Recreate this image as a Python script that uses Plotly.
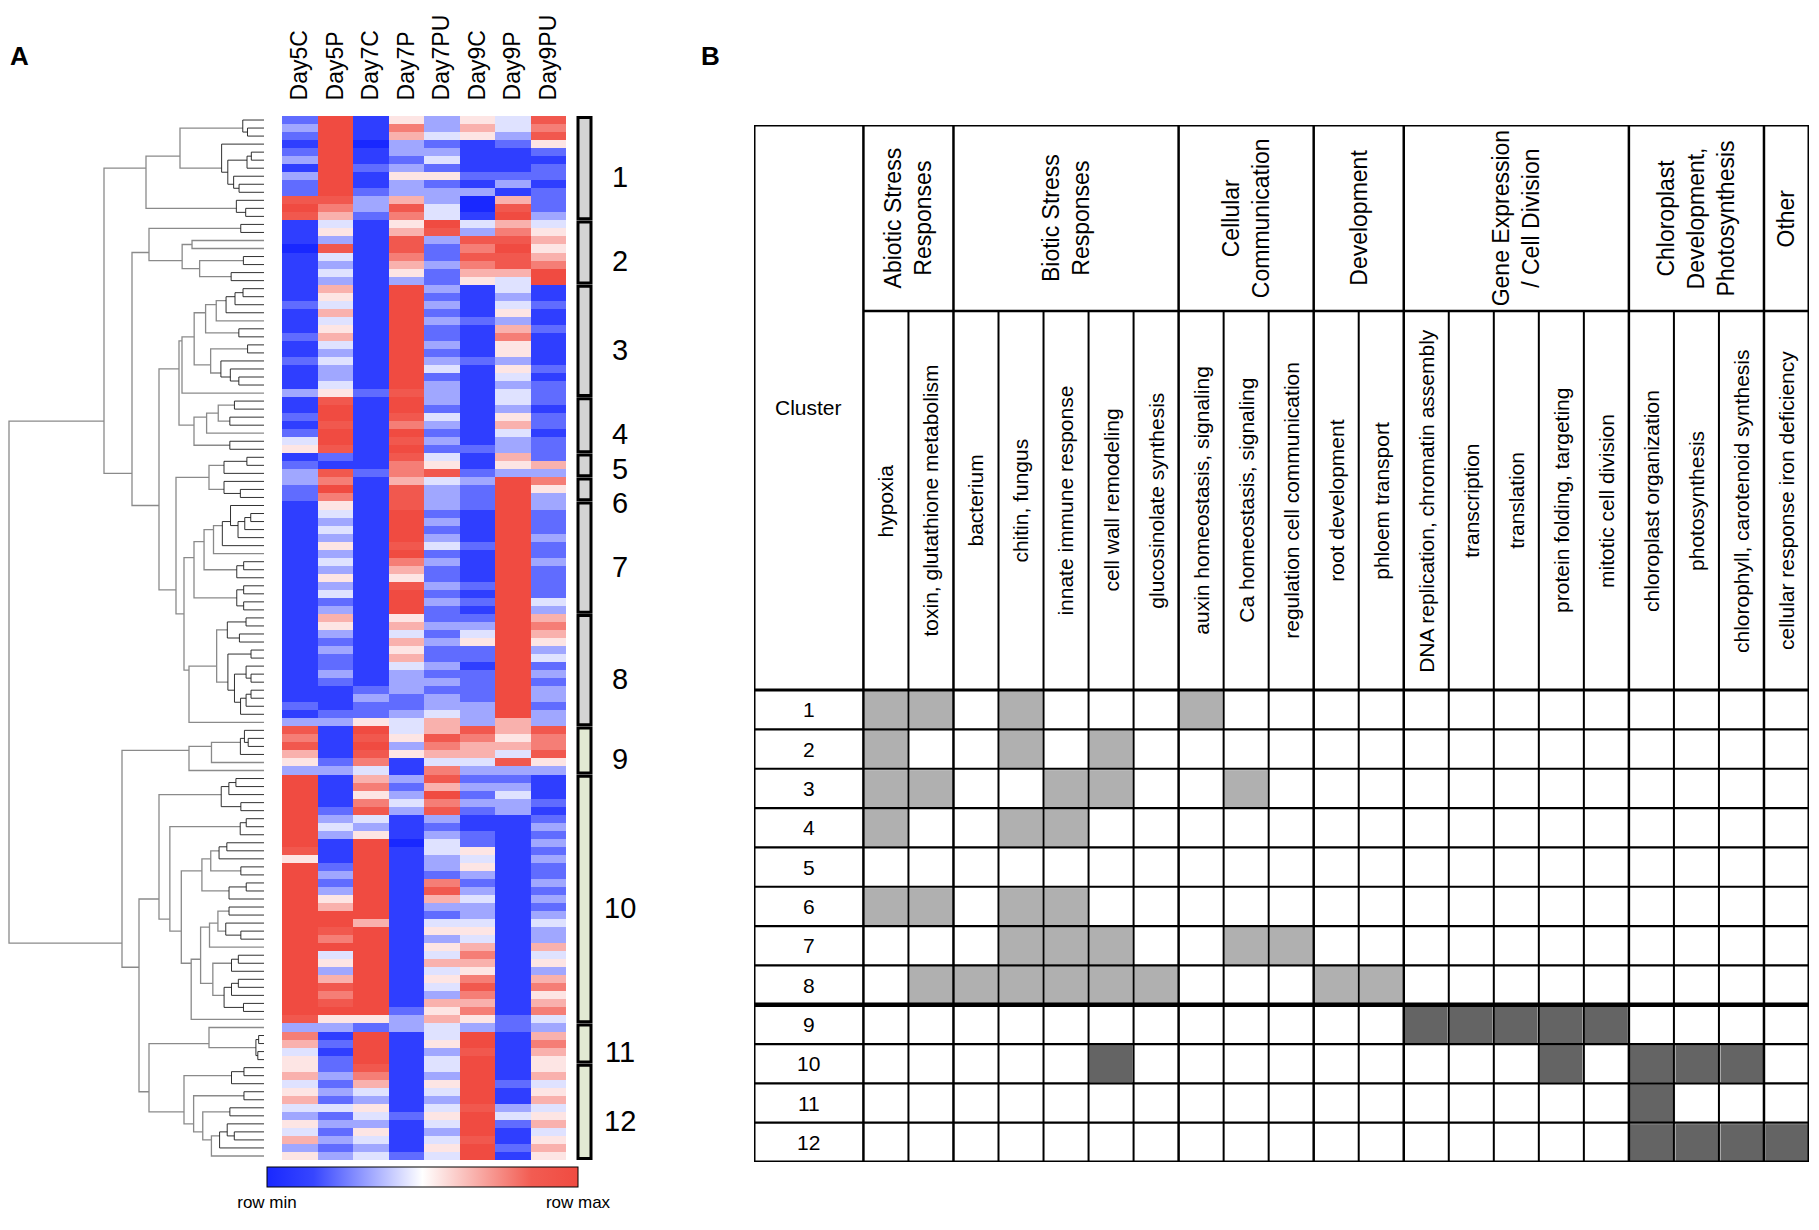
import numpy as np
import plotly.graph_objects as go

# the page puts an 8px body margin round the figure, so positions below are page pixels
PAGE_W, PAGE_H = 1819, 1230
W, H = PAGE_W - 16, PAGE_H - 16


def fx(x):
    return min(max((x - 8) / W, 0), 1)


def fy(y):
    return min(max(1 - (y - 8) / H, 0), 1)


# ---------------- panel A : data ----------------
samples = ["Day5C", "Day5P", "Day7C", "Day7P", "Day7PU", "Day9C", "Day9P", "Day9PU"]

# one string per heatmap row, one digit per sample: 0 = row min ... 9 = row max
cluster1 = ["29153548", "39173647", "29164538", "19032125", "29133112", "39124111", "19232112",
            "39155222", "29132131", "29233312", "88363062", "97384082", "86274193"]
cluster2 = ["14159464", "15168375", "13183886", "08182795", "14172886", "13163787", "14152669", "13132549"]
cluster3 = ["16193141", "15192131", "24193142", "16192151", "14193231", "15192162", "26192171",
            "14193151", "13192151", "24193231", "13194152", "13192141", "14193132", "35283142"]
cluster4 = ["18193142", "19192131", "29184152", "18173162", "29192141", "49183132", "58192232"]
cluster5 = ["12184162", "21175156", "38278233"]
cluster6 = ["37164397", "29183295", "27183293"]
cluster7 = ["15183293", "14192192", "13193192", "14192192", "13193193", "15184292", "13192192",
            "14173193", "13162192", "15152192", "13183292", "14192192", "12193294", "13192193"]
cluster8 = ["16152296", "15163397", "13142496", "12163595", "13152293", "12162294", "12143192",
            "13132293", "12133292", "11232293", "11323293", "21223392", "12234393", "33546363"]
cluster9 = ["81946868", "71858757", "81937667", "61856648", "52714485", "33417333"]
cluster10 = ["91638221", "91726331", "91539241", "91747332", "92838231", "93413112", "94312113",
             "93513212", "91904213", "81914512", "51913413", "92913512", "93912312", "92917213",
             "93918312", "95916413", "96913312", "99912313", "99614414", "98915513", "97913413",
             "99915616", "94914714", "95916615", "93914513", "96915716", "98914817", "97913715",
             "98916616", "99925717", "85536524"]
cluster11 = ["33234323", "71914916", "62915917", "41913816", "52914915"]
cluster12 = ["52814915", "63713916", "42615924", "53414915", "62313916", "44514834", "32425945",
             "53314926", "42513914", "63414815", "32315926", "53424915"]

cluster_blocks = [cluster1, cluster2, cluster3, cluster4, cluster5, cluster6,
                  cluster7, cluster8, cluster9, cluster10, cluster11, cluster12]
cluster_labels = ["1", "2", "3", "4", "5", "6", "7", "8", "9", "10", "11", "12"]

# dendrogram heights (distance from the leaves) of each cluster's own subtree
cluster_tops = [118, 115, 82, 70, 40, 40, 70, 75, 75, 105, 55, 80]
# merges above cluster level: (node a, node b, height); nodes 0-11 are the clusters, new nodes from 12
top_merges = [(4, 5, 55), (6, 7, 80), (12, 13, 88), (2, 3, 85), (15, 14, 105), (1, 16, 132),
              (0, 17, 160), (10, 11, 115), (9, 19, 125), (8, 20, 142), (18, 21, 255)]

# ---------------- panel B : data ----------------
groups = ["Abiotic Stress<br>Responses", "Biotic Stress<br>Responses", "Cellular<br>Communication",
          "Development", "Gene Expression<br>/ Cell Division",
          "Chloroplast<br>Development,<br>Photosynthesis", "Other"]
group_sizes = [2, 5, 3, 2, 5, 3, 1]
terms = ["hypoxia", "toxin, glutathione metabolism", "bacterium", "chitin, fungus",
         "innate immune response", "cell wall remodeling", "glucosinolate synthesis",
         "auxin homeostasis, signaling", "Ca homeostasis, signaling", "regulation cell communication",
         "root development", "phloem transport", "DNA replication, chromatin assembly",
         "transcription", "translation", "protein folding, targeting", "mitotic cell division",
         "chloroplast organization", "photosynthesis", "chlorophyll, carotenoid synthesis",
         "cellular response iron deficiency"]
# enriched term columns per cluster
enriched = [[0, 1, 3, 7], [0, 3, 5], [0, 1, 4, 5, 8], [0, 3, 4], [], [0, 1, 3, 4],
            [3, 4, 5, 8, 9], [1, 2, 3, 4, 5, 6, 10, 11],
            [12, 13, 14, 15, 16], [5, 15, 17, 18, 19], [17], [17, 18, 19, 20]]
cluster_shade = [1, 1, 1, 1, 1, 1, 1, 1, 2, 2, 2, 2]

FONT = "Arial, Liberation Sans, sans-serif"

# ---------------- heatmap ----------------
rows = [[int(c) for c in s] for block in cluster_blocks for s in block]
z = np.array(rows, float) / 9.0
n_rows = len(rows)
sizes = [len(b) for b in cluster_blocks]
starts = np.cumsum([0] + sizes[:-1])

fig = go.Figure()

fig.add_trace(go.Heatmap(
    z=z, x=samples, y=list(range(n_rows)), zmin=0, zmax=1,
    colorscale=[[0, "rgb(25,40,255)"], [0.15, "rgb(55,70,255)"], [0.5, "rgb(255,255,255)"],
                [0.85, "rgb(242,92,82)"], [1, "rgb(240,75,65)"]],
    hoverinfo="skip",
    colorbar=dict(orientation="h", x=fx((267 + 578) / 2), xanchor="center",
                  y=fy(1207), yanchor="bottom", len=311 / W, lenmode="fraction",
                  thickness=20, outlinecolor="black", outlinewidth=1, xpad=0, ypad=0,
                  tickvals=[0, 1], ticktext=["row min", "row max"], ticks="",
                  tickfont=dict(family=FONT, size=17, color="black")),
))


# ---------------- dendrogram ----------------
# a node sits at the mean position of all the rows below it
def cluster_links(block, first_row):
    # order preserving agglomeration: only neighbouring groups may merge
    grp = [[first_row + i, 0.0, np.array([int(c) for c in s], float), 1] for i, s in enumerate(block)]
    links = []
    while len(grp) > 1:
        dist = [np.linalg.norm(grp[k][2] - grp[k + 1][2]) for k in range(len(grp) - 1)]
        k = int(np.argmin(dist))
        a, b = grp[k], grp[k + 1]
        h = max(dist[k], a[1], b[1]) + 0.5
        links.append((a[0], a[1], b[0], b[1], h))
        n = a[3] + b[3]
        grp[k:k + 2] = [[(a[0] * a[3] + b[0] * b[3]) / n, h, (a[2] * a[3] + b[2] * b[3]) / n, n]]
    return links, grp[0][0], grp[0][1]


dark_x, dark_y = [], []
grey_x, grey_y = [], []
nodes = []
for block, st, top in zip(cluster_blocks, starts, cluster_tops):
    links, center, root_h = cluster_links(block, st)
    for ca, ha, cb, hb, h in links:
        sa, sb, sh = [top * (v / root_h) ** 1.6 for v in (ha, hb, h)]
        if sh < 45:
            dark_x += [sa, sh, sh, sb, None]
            dark_y += [ca, ca, cb, cb, None]
        else:
            grey_x += [sa, sh, sh, sb, None]
            grey_y += [ca, ca, cb, cb, None]
    nodes.append((center, top, len(block)))

for a, b, h in top_merges:
    ca, ha, na = nodes[a]
    cb, hb, nb = nodes[b]
    grey_x += [ha, h, h, hb, None]
    grey_y += [ca, ca, cb, cb, None]
    nodes.append(((ca * na + cb * nb) / (na + nb), h, na + nb))

fig.add_trace(go.Scatter(x=grey_x, y=grey_y, mode="lines", xaxis="x2", yaxis="y",
                         line=dict(color="#8a8a8a", width=1.3), hoverinfo="skip"))
fig.add_trace(go.Scatter(x=dark_x, y=dark_y, mode="lines", xaxis="x2", yaxis="y",
                         line=dict(color="#1a1a1a", width=0.9), hoverinfo="skip"))

shapes = []
annotations = []

# cluster bars and numbers (numbers sit a little below the middle of their bar)
label_shift = {"5": 0.5, "6": 1.7}
for i, (st, sz) in enumerate(zip(starts, sizes)):
    fill = "#d4d4d4" if i < 8 else "#e2ead3"
    shapes.append(dict(type="rect", xref="paper", yref="y", x0=fx(578), x1=fx(591),
                       y0=st - 0.5 + 0.2, y1=st + sz - 0.5 - 0.2,
                       line=dict(color="black", width=3), fillcolor=fill))
    annotations.append(dict(x=fx(620), y=st + (sz - 1) / 2 + label_shift.get(cluster_labels[i], 1.1),
                            xref="paper", yref="y", text=cluster_labels[i], showarrow=False,
                            xanchor="center", yanchor="middle",
                            font=dict(family=FONT, size=29, color="black")))

# ---------------- panel B : table ----------------
n_terms = len(terms)
cc_w = 2.43       # width of the "Cluster" column, in term columns
sub_h = 9.64      # height of the term header, in rows
grp_h = 4.73      # height of the group header, in rows
n_cl = len(cluster_labels)

cells = np.zeros((n_cl, n_terms))
for r, cols in enumerate(enriched):
    for c in cols:
        cells[r, c] = cluster_shade[r]

fig.add_trace(go.Heatmap(
    z=cells, x=np.arange(n_terms) + 0.5, y=np.arange(n_cl) + 0.5, zmin=0, zmax=2,
    xaxis="x3", yaxis="y3", showscale=False, hoverinfo="skip", xgap=2, ygap=2,
    colorscale=[[0, "white"], [0.33, "white"], [0.34, "#b0b0b0"], [0.66, "#b0b0b0"],
                [0.67, "#646464"], [1, "#646464"]],
))


def tline(x0, y0, x1, y1, w):
    shapes.append(dict(type="line", xref="x3", yref="y3", x0=x0, y0=y0, x1=x1, y1=y1,
                       line=dict(color="black", width=w)))


top_y = -(sub_h + grp_h)
# horizontal lines
tline(-cc_w, top_y, n_terms, top_y, 3)
tline(0, -sub_h, n_terms, -sub_h, 2.5)
for j in range(n_cl + 1):
    w = 3 if j in (0, n_cl) else (4.5 if j == 8 else 2.2)
    tline(-cc_w, j, n_terms, j, w)
# vertical lines
tline(-cc_w, top_y, -cc_w, n_cl, 3)
tline(0, top_y, 0, n_cl, 2.5)
bounds = np.cumsum(group_sizes)
for c in range(1, n_terms):
    if c in bounds:
        tline(c, top_y, c, n_cl, 2.5)
    else:
        tline(c, -sub_h, c, n_cl, 2)
tline(n_terms, top_y, n_terms, n_cl, 3)

# header texts
annotations.append(dict(x=-cc_w / 2, y=top_y / 2, xref="x3", yref="y3", text="Cluster",
                        showarrow=False, font=dict(family=FONT, size=21, color="black")))
g0 = 0
for g, n in zip(groups, group_sizes):
    annotations.append(dict(x=g0 + n / 2, y=-sub_h - grp_h / 2, xref="x3", yref="y3", text=g,
                            textangle=-90, showarrow=False,
                            font=dict(family=FONT, size=23, color="black")))
    g0 += n
for c, t in enumerate(terms):
    annotations.append(dict(x=c + 0.5, y=-sub_h / 2, xref="x3", yref="y3", text=t,
                            textangle=-90, showarrow=False,
                            font=dict(family=FONT, size=21, color="black")))
for r, lab in enumerate(cluster_labels):
    annotations.append(dict(x=-cc_w / 2, y=r + 0.5, xref="x3", yref="y3", text=lab,
                            showarrow=False, font=dict(family=FONT, size=21, color="black")))

# panel letters
for letter, px in (("A", 19), ("B", 710)):
    annotations.append(dict(x=fx(px), y=fy(56), xref="paper", yref="paper", text="<b>%s</b>" % letter,
                            xanchor="center", yanchor="middle", showarrow=False,
                            font=dict(family=FONT, size=26, color="black")))

fig.update_layout(
    width=W, height=H, margin=dict(l=0, r=0, t=0, b=0),
    paper_bgcolor="white", plot_bgcolor="white", showlegend=False,
    shapes=shapes, annotations=annotations,
    xaxis=dict(domain=[fx(282), fx(566)], anchor="y", side="top", tickangle=-90,
               showgrid=False, zeroline=False, showline=False, ticks="outside", ticklen=10,
               tickcolor="rgba(0,0,0,0)", tickfont=dict(family=FONT, size=23, color="black")),
    yaxis=dict(domain=[fy(1160), fy(116)], anchor="x", range=[n_rows - 0.5, -0.5],
               visible=False),
    xaxis2=dict(domain=[0, fx(264)], anchor="y", range=[256, 0], visible=False),
    xaxis3=dict(domain=[fx(754), fx(1809)], anchor="y3", range=[-cc_w, n_terms], visible=False),
    yaxis3=dict(domain=[fy(1162), fy(125)], anchor="x3", range=[n_cl, top_y],
                visible=False),
)

fig.write_html("out.html")
